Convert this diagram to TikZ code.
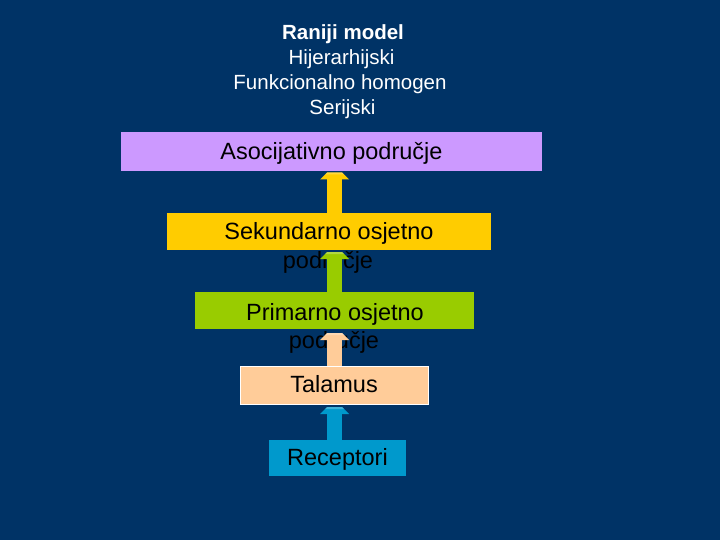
\documentclass[tikz,border=0pt]{standalone}
\usepackage{fontspec}
\setmainfont{Liberation Sans}
\usetikzlibrary{calc}
\definecolor{bg}{HTML}{003366}
\definecolor{lav}{HTML}{CC99FF}
\definecolor{ylw}{HTML}{FFCC00}
\definecolor{grn}{HTML}{99CC00}
\definecolor{pch}{HTML}{FFCC99}
\definecolor{blu}{HTML}{0099CC}
\tikzset{
  box/.style={rectangle, inner sep=0pt, outer sep=0pt, anchor=north west},
  lbl/.style={inner sep=0pt, anchor=base, text=black, font=\fontsize{23.5}{28}\selectfont},
  ttl/.style={inner sep=0pt, anchor=base, text=white, font=\fontsize{20.5}{24}\selectfont},
}
% #1 from (bottom), #2 to (top), #3 colour, #4 gap
\newcommand\blkuparrow[4]{%
  \fill[#3] ($(#1)+(-7.5pt,0)$) rectangle ($(#2)+(7.5pt,-#4-7pt)$);
  \fill[#3] ($(#2)+(-14.5pt,-#4-7pt)$) -- ($(#2)+(-7.5pt,-#4)$) -- ($(#2)+(7.5pt,-#4)$) -- ($(#2)+(14.5pt,-#4-7pt)$) -- cycle;
  \fill[white,opacity=0.25] ($(#2)+(-7.5pt,-#4)$) -- ($(#2)+(7.5pt,-#4)$) -- ($(#2)+(9.5pt,-#4-2pt)$) -- ($(#2)+(-9.5pt,-#4-2pt)$) -- cycle;
}
\begin{document}
\begin{tikzpicture}[x=1pt,y=-1pt]
\fill[bg] (0,0) rectangle (720,540);
\useasboundingbox (0,0) rectangle (720,540);
\coordinate (ax) at (334.5,0);
% title
\node[ttl, font=\fontsize{20.5}{24}\selectfont\bfseries] (t1) at (343,40) {Raniji model};
\node[ttl] (t2) at (341.5,65) {Hijerarhijski};
\node[ttl] (t3) at (340,90) {Funkcionalno homogen};
\node[ttl] (t4) at (342.5,114.5) {Serijski};
% boxes
\node[box, fill=lav, minimum width=421pt, minimum height=39pt] (aso) at (121,132) {};
\node[box, fill=ylw, minimum width=324pt, minimum height=37pt] (sek) at (167,213) {};
\node[box, fill=grn, minimum width=279pt, minimum height=37pt] (pri) at (195,292) {};
\node[box, fill=pch, draw=white, line width=1pt, minimum width=188pt, minimum height=38pt] (tal) at (240,366) {};
\node[box, fill=blu, minimum width=137pt, minimum height=36pt] (rec) at (269,440) {};
% labels
\node[lbl] (asoT) at (331.5,160) {Asocijativno područje};
\node[lbl] (sekT) at (329,240) {Sekundarno osjetno};
\node[lbl] (sekT2) at (328,268) {područje};
\node[lbl] (priT) at (335,320) {Primarno osjetno};
\node[lbl] (priT2) at (334,348) {područje};
\node[lbl] (talT) at (334,392.7) {Talamus};
\node[lbl] (recT) at (337.5,465.7) {Receptori};
% arrows
\blkuparrow{sek.north -| ax}{aso.south -| ax}{ylw}{1.5pt}
\blkuparrow{pri.north -| ax}{sek.south -| ax}{grn}{2pt}
\blkuparrow{tal.north -| ax}{pri.south -| ax}{pch}{4pt}
\blkuparrow{rec.north -| ax}{tal.south -| ax}{blu}{3pt}
\end{tikzpicture}
\end{document}
